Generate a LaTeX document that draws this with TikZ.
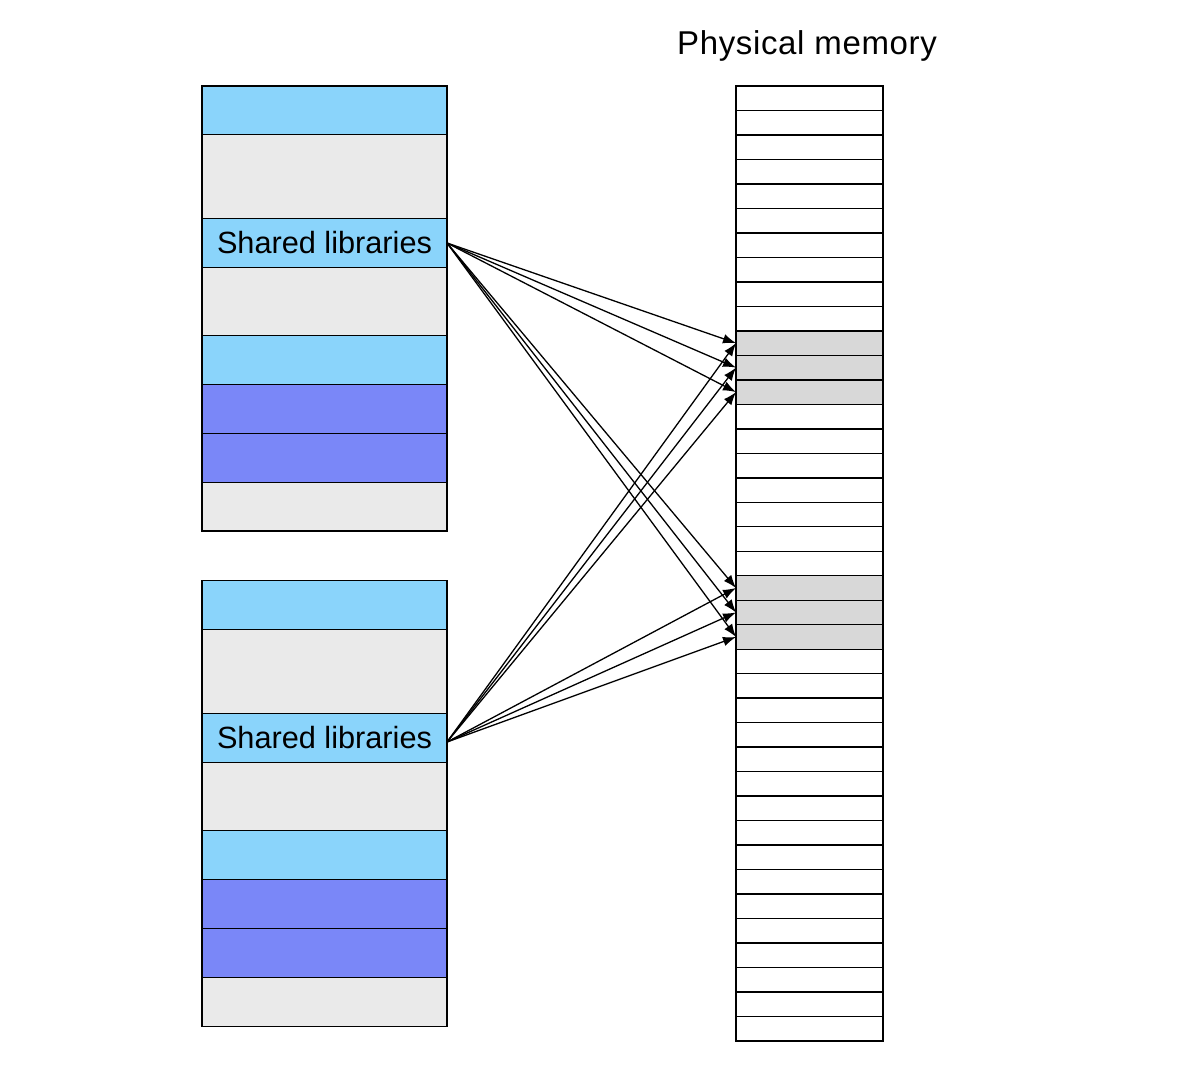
\documentclass[tikz,border=0pt]{standalone}
\usepackage{fontspec}
\setmainfont{Liberation Sans}
\usetikzlibrary{arrows.meta}
\definecolor{lblue}{RGB}{138,212,251}
\definecolor{purp}{RGB}{122,135,248}
\definecolor{lgray}{RGB}{234,234,234}
\definecolor{pgray}{RGB}{216,216,216}
\begin{document}
\begin{tikzpicture}[x=0.5pt,y=-0.5pt,
  cell/.style={draw=black, line width=0.75pt, anchor=north west, inner sep=0pt, outer sep=0pt,
    minimum width=122.5pt, font=\fontsize{15.35}{18}\selectfont},
  pcell/.style={draw=black, line width=0.7pt, anchor=north west, inner sep=0pt, outer sep=0pt,
    minimum width=73.5pt, minimum height=12.24pt},
  link/.style={-{Latex[length=6.5pt,width=4.8pt]}, line width=0.65pt},
  title/.style={font=\fontsize{16.5}{19}\selectfont\addfontfeature{LetterSpace=2}}]
\useasboundingbox (0,0) rectangle (1186,1076);
% top process address space
\foreach \n/\a/\b/\c in {t1/86/134.5/lblue, t2/134.5/218.5/lgray, t4/267.5/335.5/lgray,
    t5/335.5/384.5/lblue, t6/384.5/433.5/purp, t7/433.5/482.5/purp, t8/482.5/531/lgray}
  \node[cell, fill=\c, minimum height={(\b-\a)*0.5pt}] (\n) at (202,\a) {};
\node[cell, fill=lblue, minimum height=24.5pt] (t3) at (202,218.5) {Shared libraries};
% bottom process address space
\foreach \n/\a/\b/\c in {b1/580.7/629.5/lblue, b2/629.5/713.5/lgray, b4/762.5/830.5/lgray,
    b5/830.5/879.5/lblue, b6/879.5/928.5/purp, b7/928.5/977.5/purp, b8/977.5/1026.5/lgray}
  \node[cell, fill=\c, minimum height={(\b-\a)*0.5pt}] (\n) at (202,\a) {};
\node[cell, fill=lblue, minimum height=24.5pt] (b3) at (202,713.5) {Shared libraries};
% physical memory
\node[title, anchor=base] (pmtitle) at (807,54) {Physical memory};
\foreach \i in {0,...,38}{
  \def\col{white}
  \ifnum\i>9 \ifnum\i<13 \def\col{pgray}\fi\fi
  \ifnum\i>19 \ifnum\i<23 \def\col{pgray}\fi\fi
  \node[pcell, fill=\col] (pm\i) at (736,{86+\i*24.487}) {};
}
% mappings
\foreach \r in {10,11,12,20,21,22}{
  \draw[link] (t3.east) -- (pm\r.west);
  \draw[link] ([yshift=-2pt]b3.east) -- (pm\r.west);
}
\end{tikzpicture}
\end{document}
